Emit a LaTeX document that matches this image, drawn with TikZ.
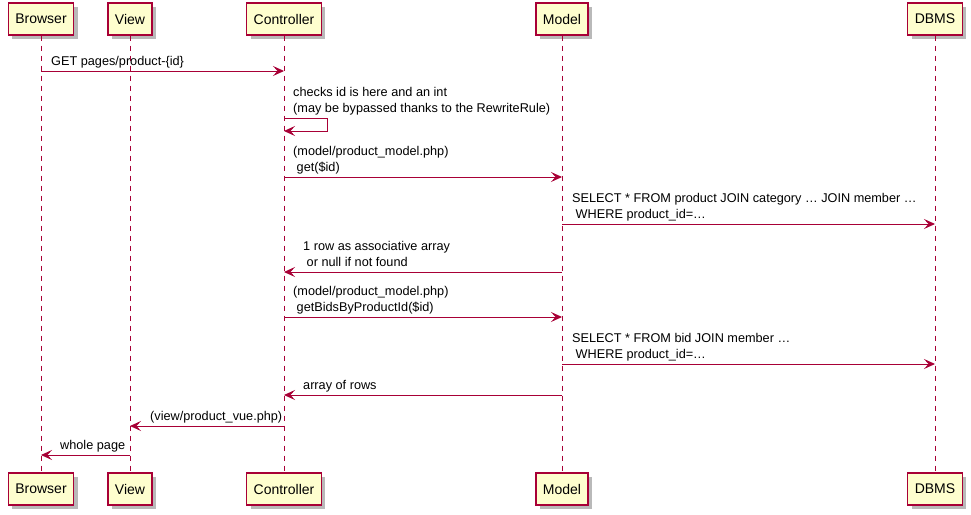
\documentclass[tikz,border=0pt]{standalone}
\usepackage{fontspec}
\setmainfont{Liberation Sans}
\usetikzlibrary{arrows.meta,shadows}
\definecolor{umlred}{HTML}{A80036}
\definecolor{umlfill}{HTML}{FEFECE}
\tikzset{part node/.style={draw=umlred,fill=umlfill,line width=1.3pt,minimum height=32pt,
    inner xsep=7pt,font=\fontsize{14}{16}\selectfont,
    drop shadow={shadow xshift=4pt,shadow yshift=-4pt,fill=black!55,opacity=.5}},
}

\begin{document}
\begin{tikzpicture}[x=1pt,y=-1pt,>={Stealth[length=11pt,width=10pt,inset=4.5pt]},
		lifeline/.style={draw=umlred,line width=0.9pt,dash pattern=on 5pt off 5pt},
		msg/.style={->,draw=umlred,line width=1pt},
		msg label/.style={anchor=south west,inner sep=0pt,text depth=3pt,align=left,
			font=\fontsize{12.7}{16.5}\selectfont}]
		\useasboundingbox (0,0) rectangle (971,514);
		
		% participants, top and bottom
		\node[part node] (browser) at (41,19) {Browser};
		\node[part node] (view) at (130,19) {View};
		\node[part node] (ctrl) at (284,19) {Controller};
		\node[part node] (model) at (562,19) {Model};
		\node[part node] (dbms) at (935,19) {DBMS};
		\node[part node] (browserB) at (41,489) {Browser};
		\node[part node] (viewB) at (130,489) {View};
		\node[part node] (ctrlB) at (284,489) {Controller};
		\node[part node] (modelB) at (562,489) {Model};
		\node[part node] (dbmsB) at (935,489) {DBMS};
		
		% lifelines
		\draw[lifeline] (browser.south) -- (browserB.north);
		\draw[lifeline] (view.south) -- (viewB.north);
		\draw[lifeline] (ctrl.south) -- (ctrlB.north);
		\draw[lifeline] (model.south) -- (modelB.north);
		\draw[lifeline] (dbms.south) -- (dbmsB.north);
		
		% messages
		\draw[msg] (browser |- 0,71) -- (ctrl |- 0,71);
		\node[msg label] (l1) at (51,69) {GET pages/product-\{id\}};
		
		\draw[msg] (ctrl |- 0,118) -| (327,131) -- (ctrl |- 0,131);
		\node[msg label] (l2) at (293,116) {checks id is here and an int\\(may be bypassed thanks to the RewriteRule)};
		
		\draw[msg] (ctrl |- 0,177) -- (model |- 0,177);
		\node[msg label] (l3) at (293,175) {(model/product\_model.php)\\\ get(\$id)};
		
		\draw[msg] (model |- 0,224) -- (dbms |- 0,224);
		\node[msg label] (l4) at (572,222) {SELECT * FROM product JOIN category … JOIN member …\\\ WHERE product\_id=…};
		
		\draw[msg] (model |- 0,272) -- (ctrl |- 0,272);
		\node[msg label] (l5) at (303,270) {1 row as associative array\\\ or null if not found};
		
		\draw[msg] (ctrl |- 0,317) -- (model |- 0,317);
		\node[msg label] (l6) at (293,315) {(model/product\_model.php)\\\ getBidsByProductId(\$id)};
		
		\draw[msg] (model |- 0,364) -- (dbms |- 0,364);
		\node[msg label] (l7) at (572,362) {SELECT * FROM bid JOIN member …\\\ WHERE product\_id=…};
		
		\draw[msg] (model |- 0,395) -- (ctrl |- 0,395);
		\node[msg label] (l8) at (303,393) {array of rows};
		
		\draw[msg] (ctrl |- 0,426) -- (view |- 0,426);
		\node[msg label] (l9) at (150,424) {(view/product\_vue.php)};
		
		\draw[msg] (view |- 0,455) -- (browser |- 0,455);
		\node[msg label] (l10) at (60,453) {whole page};
		\end{tikzpicture}
\end{document}
